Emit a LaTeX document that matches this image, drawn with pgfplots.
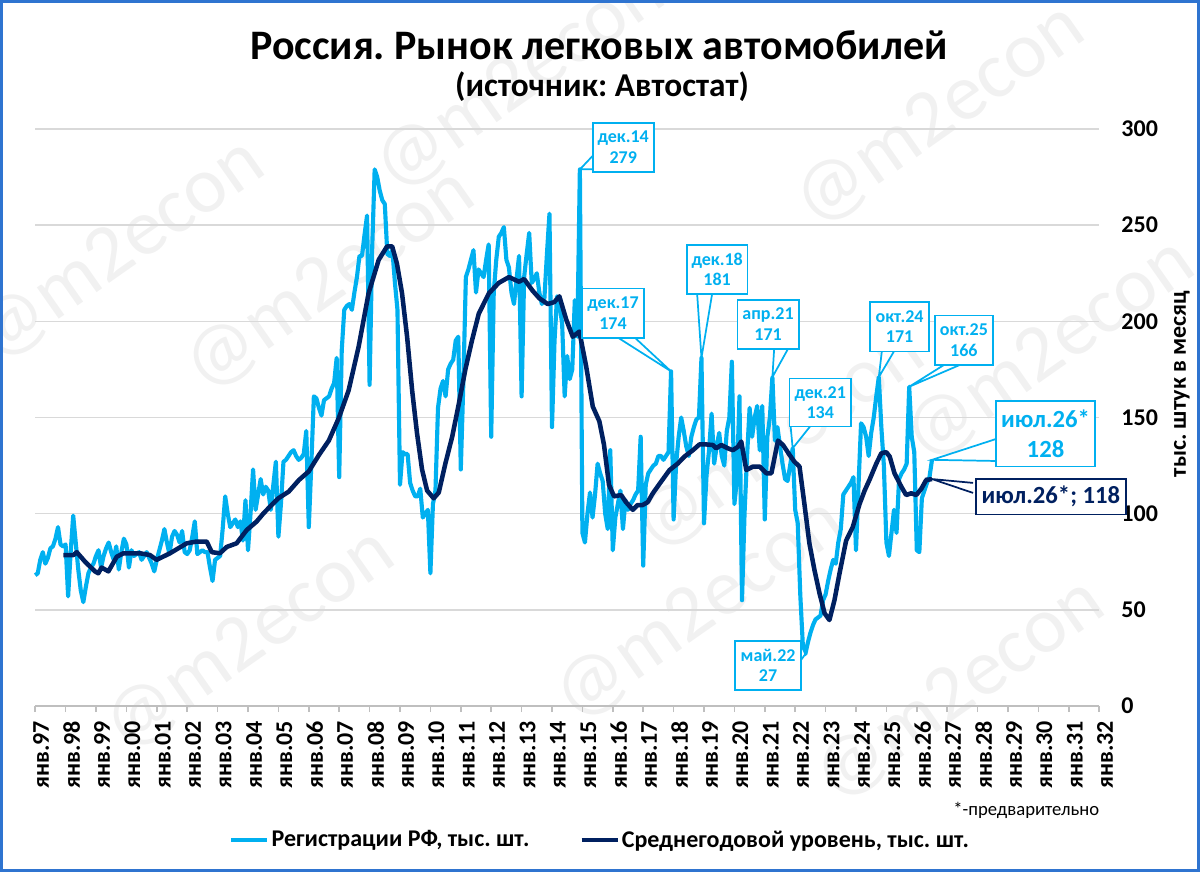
\documentclass[border=0pt]{standalone}
\usepackage{fontspec}
\setmainfont{Carlito}
\usepackage{pgfplots}
\usepackage{pgfplotstable}
\pgfplotsset{compat=1.18}
\frenchspacing
\definecolor{lb}{HTML}{00B0F0}
\definecolor{db}{HTML}{002060}
\definecolor{gridgray}{HTML}{D9D9D9}
\definecolor{axisgray}{HTML}{BFBFBF}
\definecolor{borderblue}{HTML}{2F74D0}
\definecolor{wm}{HTML}{F1F1F1}

\pgfplotstableread[row sep=\\]{
x y\\
0 68\\ 1 69\\ 2 76\\ 3 80\\ 4 74\\ 5 77\\ 6 82\\ 7 83\\ 8 87\\ 9 93\\ 10 84\\ 11 83\\
12 84\\ 13 57\\ 14 80\\ 15 99\\ 16 85\\ 17 71\\ 18 60\\ 19 54\\ 20 62\\ 21 69\\ 22 72\\ 23 74\\
24 78\\ 25 81\\ 26 72\\ 27 78\\ 28 82\\ 29 85\\ 30 80\\ 31 76\\ 32 83\\ 33 71\\ 34 80\\ 35 87\\
36 84\\ 37 72\\ 38 81\\ 39 78\\ 40 79\\ 41 80\\ 42 76\\ 43 78\\ 44 80\\ 45 77\\ 46 74\\ 47 70\\
48 76\\ 49 81\\ 50 86\\ 51 92\\ 52 85\\ 53 79\\ 54 88\\ 55 91\\ 56 89\\ 57 85\\ 58 91\\ 59 80\\
60 79\\ 61 81\\ 62 88\\ 63 96\\ 64 79\\ 65 80\\ 66 81\\ 67 80\\ 68 80\\ 69 72\\ 70 65\\ 71 76\\
72 77\\ 73 78\\ 74 92\\ 75 109\\ 76 100\\ 77 93\\ 78 95\\ 79 97\\ 80 93\\ 81 96\\ 82 86\\ 83 107\\
84 81\\ 85 100\\ 86 123\\ 87 102\\ 88 110\\ 89 118\\ 90 110\\ 91 114\\ 92 112\\ 93 102\\ 94 115\\ 95 127\\
96 88\\ 97 105\\ 98 127\\ 99 128\\ 100 130\\ 101 132\\ 102 133\\ 103 130\\ 104 128\\ 105 129\\ 106 131\\ 107 143\\
108 93\\ 109 126\\ 110 161\\ 111 160\\ 112 155\\ 113 151\\ 114 159\\ 115 160\\ 116 161\\ 117 165\\ 118 168\\ 119 181\\
120 119\\ 121 185\\ 122 206\\ 123 208\\ 124 209\\ 125 206\\ 126 215\\ 127 223\\ 128 234\\ 129 234\\ 130 245\\ 131 255\\
132 167\\ 133 237\\ 134 279\\ 135 275\\ 136 268\\ 137 263\\ 138 261\\ 139 235\\ 140 234\\ 141 237\\ 142 220\\ 143 206\\
144 115\\ 145 132\\ 146 131\\ 147 131\\ 148 116\\ 149 112\\ 150 109\\ 151 109\\ 152 113\\ 153 98\\ 154 100\\ 155 102\\
156 69\\ 157 105\\ 158 112\\ 159 155\\ 160 165\\ 161 169\\ 162 161\\ 163 175\\ 164 178\\ 165 180\\ 166 190\\ 167 192\\
168 123\\ 169 168\\ 170 223\\ 171 227\\ 172 232\\ 173 237\\ 174 215\\ 175 227\\ 176 225\\ 177 223\\ 178 232\\ 179 240\\
180 140\\ 181 215\\ 182 232\\ 183 244\\ 184 246\\ 185 249\\ 186 232\\ 187 228\\ 188 215\\ 189 209\\ 190 222\\ 191 234\\
192 161\\ 193 223\\ 194 235\\ 195 246\\ 196 220\\ 197 222\\ 198 225\\ 199 215\\ 200 209\\ 201 212\\ 202 235\\ 203 256\\
204 145\\ 205 190\\ 206 213\\ 207 208\\ 208 199\\ 209 161\\ 210 182\\ 211 170\\ 212 175\\ 213 211\\ 214 192\\ 215 279\\
216 90\\ 217 85\\ 218 100\\ 219 111\\ 220 98\\ 221 110\\ 222 126\\ 223 121\\ 224 117\\ 225 100\\ 226 92\\ 227 133\\
228 81\\ 229 98\\ 230 105\\ 231 112\\ 232 92\\ 233 107\\ 234 102\\ 235 105\\ 236 107\\ 237 110\\ 238 112\\ 239 140\\
240 73\\ 241 115\\ 242 121\\ 243 123\\ 244 125\\ 245 126\\ 246 130\\ 247 130\\ 248 128\\ 249 130\\ 250 132\\ 251 174\\
252 97\\ 253 126\\ 254 140\\ 255 150\\ 256 143\\ 257 135\\ 258 130\\ 259 140\\ 260 145\\ 261 149\\ 262 150\\ 263 181\\
264 95\\ 265 120\\ 266 133\\ 267 152\\ 268 126\\ 269 135\\ 270 142\\ 271 130\\ 272 125\\ 273 143\\ 274 150\\ 275 179\\
276 105\\ 277 118\\ 278 161\\ 279 55\\ 280 100\\ 281 130\\ 282 155\\ 283 140\\ 284 150\\ 285 156\\ 286 133\\ 287 156\\
288 97\\ 289 140\\ 290 150\\ 291 171\\ 292 138\\ 293 145\\ 294 135\\ 295 126\\ 296 118\\ 297 117\\ 298 125\\ 299 134\\
300 102\\ 301 95\\ 302 58\\ 303 32\\ 304 27\\ 305 33\\ 306 38\\ 307 42\\ 308 45\\ 309 46\\ 310 47\\ 311 55\\
312 58\\ 313 65\\ 314 71\\ 315 76\\ 316 74\\ 317 85\\ 318 92\\ 319 110\\ 320 112\\ 321 114\\ 322 116\\ 323 119\\
324 81\\ 325 115\\ 326 147\\ 327 145\\ 328 140\\ 329 130\\ 330 142\\ 331 150\\ 332 161\\ 333 171\\ 334 145\\ 335 125\\
336 85\\ 337 78\\ 338 90\\ 339 102\\ 340 90\\ 341 118\\ 342 121\\ 343 123\\ 344 126\\ 345 166\\ 346 140\\ 347 132\\
348 81\\ 349 80\\ 350 108\\ 351 112\\ 352 116\\ 353 119\\ 354 128\\
}\lighttab

\pgfplotstableread[row sep=\\]{
x y\\
11.1 78.5\\ 15.1 78.5\\ 16.4 80\\ 19.7 75\\ 23.6 70\\ 24.9 69\\ 26.2 72\\ 28.9 70\\ 32.2 77.6\\ 34.8 79.4\\
41.4 79.4\\ 45.3 78.5\\ 47.9 76\\ 53.2 79.4\\ 59.8 84.6\\ 63.7 85.5\\ 67.7 85.5\\ 69.7 80\\ 72.9 79.4\\ 75.6 82.7\\
79.5 84.6\\ 83.5 91.5\\ 87.4 95.9\\ 90 100\\ 92.7 103.7\\ 96 108\\ 100.1 111.5\\ 104.1 117.5\\ 108 122\\ 112 130.5\\
115.9 138\\ 119.8 149.6\\ 123.7 164\\ 127.7 187\\ 131.6 214.6\\ 135.6 232\\ 138.9 239\\ 140.9 239\\ 142.8 230\\ 144.8 214.6\\
146.8 192\\ 148.8 164\\ 150.7 142\\ 152.7 123\\ 154.7 112\\ 157.3 108\\ 159.3 111\\ 161.9 126\\ 164.6 140\\ 167.2 157\\
169.8 175\\ 172.4 190\\ 175.1 204\\ 179.1 214.6\\ 183 220\\ 187 223\\ 191 220.6\\ 193 222\\ 196.3 216\\ 199 212\\
202.3 209\\ 204.9 210\\ 206.9 213\\ 209.6 201\\ 212.2 192\\ 214.8 194.7\\ 217.5 176.5\\ 220.1 155.7\\ 222.7 148\\ 224.5 136\\
226.5 115\\ 228.5 109\\ 231.3 109.7\\ 233.2 106\\ 235.9 102\\ 237.8 104.5\\ 239.8 104.5\\ 241.8 106\\ 243.8 110.6\\ 247.1 116.7\\
250.4 122.7\\ 253.6 126\\ 256.3 129.7\\ 259.6 133\\ 262.2 136\\ 264.9 136\\ 267.5 135.7\\ 268.8 134\\ 270.8 135.7\\ 273.4 134\\
275.4 133\\ 277.4 134.8\\ 278.7 137.5\\ 280.7 122.7\\ 283.4 124.5\\ 286 124.5\\ 288.6 121\\ 290.6 121\\ 293.2 138\\ 295.2 135.7\\
297.8 130.5\\ 299.7 127\\ 301.7 124.5\\ 303.6 105.4\\ 305.6 84.6\\ 307.6 70.7\\ 309.6 58.6\\ 311.6 48.2\\ 313.5 44.7\\ 315.5 55\\
317.5 69\\ 320.1 86\\ 322.7 93\\ 325.4 105\\ 327.4 112\\ 329.3 117.5\\ 332 126\\ 334 131.4\\ 335.9 132\\ 337.3 129.7\\
339.2 121\\ 341.9 114\\ 343.8 109.7\\ 345.8 110.6\\ 347.8 109.7\\ 349.8 113\\ 351.7 117.5\\ 354 118\\
}\darktab

\tikzset{
  cbox/.style={draw=lb, fill=white, line width=1.3pt, text=lb, align=center, inner sep=0pt,
    font=\bfseries\fontsize{13.5}{15.5}\selectfont},
  wedge/.style={draw=lb, fill=white, line width=1.3pt, line join=miter},
  wmark/.style={text=wm, font=\fontsize{60}{60}\selectfont, rotate=35, inner sep=0pt},
}

\begin{document}
\begin{tikzpicture}
\path[use as bounding box] (0,0) rectangle (900pt,-654pt);
\begin{scope}[x=0.75pt,y=-0.75pt]
  % watermarks
  \node[wmark] at (120,250) {@m2econ};
  \node[wmark] at (330,280) {@m2econ};
  \node[wmark] at (520,80) {@m2econ};
  \node[wmark] at (940,115) {@m2econ};
  \node[wmark] at (1050,350) {@m2econ};
  \node[wmark] at (780,440) {@m2econ};
  \node[wmark] at (700,610) {@m2econ};
  \node[wmark] at (250,640) {@m2econ};
  \node[wmark] at (960,690) {@m2econ};
  % titles
  \node[anchor=base, font=\bfseries\fontsize{31.5}{31.5}\selectfont] at (599,59) {Россия. Рынок легковых автомобилей};
  \node[anchor=base, font=\bfseries\fontsize{25}{25}\selectfont] at (602,96) {(источник: Автостат)};
  \node[anchor=center, rotate=90, font=\bfseries\fontsize{18}{18}\selectfont] at (1182,384) {тыс. штук в месяц};
  \node[anchor=east, font=\fontsize{14}{14}\selectfont] at (1104,810) {*-предварительно};
\end{scope}

\begin{axis}[
  at={(26.4pt,-529.5pt)}, anchor=south west,
  width=798pt, height=432.75pt, scale only axis,
  xmin=0, xmax=420, ymin=0, ymax=300,
  axis x line*=bottom, axis y line*=right,
  x axis line style={draw=axisgray, line width=1.1pt, -},
  y axis line style={draw=none},
  xtick={0,12,...,420},
  xticklabels={янв.97,янв.98,янв.99,янв.00,янв.01,янв.02,янв.03,янв.04,янв.05,янв.06,янв.07,янв.08,янв.09,янв.10,янв.11,янв.12,янв.13,янв.14,янв.15,янв.16,янв.17,янв.18,янв.19,янв.20,янв.21,янв.22,янв.23,янв.24,янв.25,янв.26,янв.27,янв.28,янв.29,янв.30,янв.31,янв.32},
  ytick={0,50,...,300},
  ymajorgrids, grid style={draw=gridgray, line width=1.1pt},
  tick align=outside, major tick length=4.5pt,
  xtick style={draw=axisgray, line width=1.1pt},
  ytick style={draw=none},
  xticklabel style={xshift=4.5pt, rotate=90, anchor=east, inner xsep=6.5pt, inner ysep=0pt, font=\bfseries\fontsize{18}{18}\selectfont},
  yticklabel style={anchor=west, inner sep=0pt, xshift=12pt, font=\bfseries\fontsize{18}{18}\selectfont},
  /pgf/number format/assume math mode=true,
  clip=false,
  legend columns=2,
  legend style={at={(0.531,-0.232)}, anchor=center, draw=none, fill=none,
    font=\bfseries\fontsize{18}{18}\selectfont, inner sep=0pt,
    nodes={inner xsep=1.5pt, inner ysep=0pt},
    /tikz/every even column/.append style={column sep=36pt}},
  legend image code/.code={\draw[#1] (0pt,0pt) -- (27pt,0pt);},
]
\addplot[color=lb, line width=3.1pt, line join=round] table[x=x,y=y] {\lighttab};
\addlegendentry{Регистрации РФ, тыс. шт.}
\addplot[color=db, line width=3.4pt, line join=round] table[x=x,y=y] {\darktab};
\addlegendentry{Среднегодовой уровень, тыс. шт.}

% callouts
\filldraw[wedge] (axis cs:220.1,286.1) -- (axis cs:215,279) -- (axis cs:220.1,279.1);
\node[cbox, minimum width=45.7pt, minimum height=36.7pt] at (axis cs:232.1,290.4) {дек.14\\279};

\filldraw[wedge] (axis cs:230.2,191.4) -- (axis cs:251,174) -- (axis cs:236.8,191.4);
\node[cbox, minimum width=46.5pt, minimum height=37pt] at (axis cs:228.1,204.2) {дек.17\\174};

\filldraw[wedge] (axis cs:261.3,214.2) -- (axis cs:263,181) -- (axis cs:267.2,214.2);
\node[cbox, minimum width=45.4pt, minimum height=37pt] at (axis cs:269.2,227.0) {дек.18\\181};

\filldraw[wedge] (axis cs:291.7,185.8) -- (axis cs:291,171) -- (axis cs:297.2,185.8);
\node[cbox, minimum width=46pt, minimum height=36.75pt] at (axis cs:289.3,198.5) {апр.21\\171};

\filldraw[wedge] (axis cs:298.2,145.4) -- (axis cs:299,134) -- (axis cs:305.9,145.4);
\node[cbox, minimum width=46pt, minimum height=35.9pt] at (axis cs:309.9,157.8) {дек.21\\134};

\filldraw[wedge] (axis cs:334.2,184.4) -- (axis cs:333,171) -- (axis cs:339.0,184.4);
\node[cbox, minimum width=44.3pt, minimum height=37pt] at (axis cs:341.2,197.2) {окт.24\\171};

\filldraw[wedge] (axis cs:358.8,177.4) -- (axis cs:345,166) -- (axis cs:365.1,177.4);
\node[cbox, minimum width=43.5pt, minimum height=37pt] at (axis cs:366.6,190.2) {окт.25\\166};

\filldraw[wedge] (axis cs:302.3,31.7) -- (axis cs:304,27) -- (axis cs:302.3,23.9);
\node[cbox, minimum width=49.5pt, minimum height=36.75pt] at (axis cs:289.3,21.1) {май.22\\27};

\filldraw[wedge] (axis cs:379.2,138.8) -- (axis cs:354,128) -- (axis cs:379.2,127.4);
\node[cbox, minimum width=74.5pt, minimum height=49.3pt, font=\bfseries\fontsize{18.5}{23}\selectfont] at (axis cs:398.8,141.6) {июл.26*\\128};

\filldraw[wedge, draw=db] (axis cs:370.2,116.0) -- (axis cs:354,118) -- (axis cs:370.2,110.8);
\node[cbox, draw=db, text=db, minimum width=112.5pt, minimum height=26.6pt, font=\bfseries\fontsize{18.5}{20}\selectfont] at (axis cs:400.9,108.8) {июл.26*; 118};
\end{axis}

\begin{scope}[x=0.75pt,y=-0.75pt]
  \draw[borderblue, line width=2.3pt] (1.5,1.5) rectangle (1198.5,870.5);
\end{scope}
\end{tikzpicture}
\end{document}
